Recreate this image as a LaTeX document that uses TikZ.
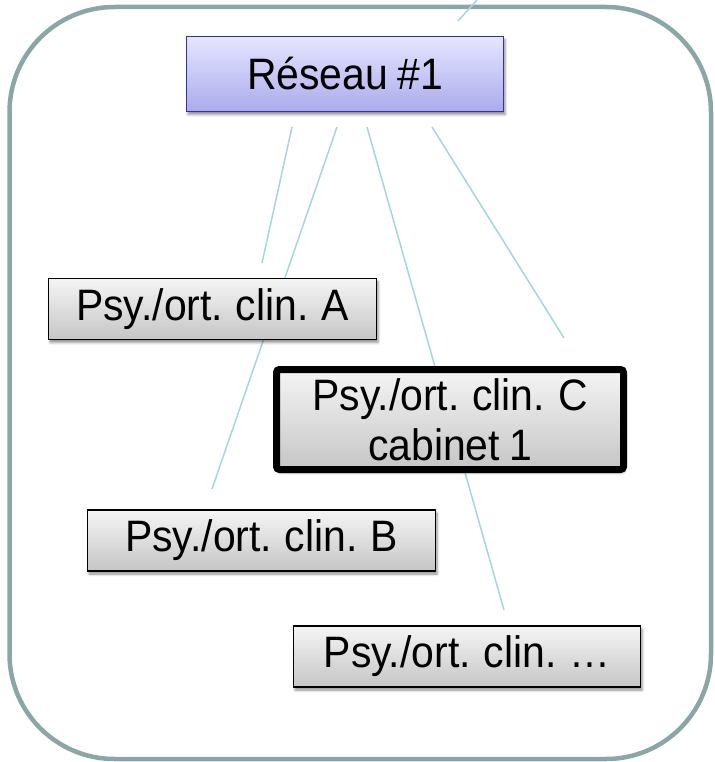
\documentclass[tikz,border=0pt]{standalone}
\usepackage{fontspec}
\setmainfont{Liberation Sans}[FakeStretch=0.93, WordSpace=0.8]
\usetikzlibrary{shadows.blur}

\definecolor{framegray}{HTML}{8AA6A7}
\definecolor{linkteal}{HTML}{A6D6DB}
\definecolor{netblue}{HTML}{33339E}

\tikzset{
	cliniq/.style={draw=black, line width=1.5pt, inner sep=0pt,
		top color=gray!8, bottom color=gray!45,
		minimum height=61pt, font=\fontsize{44}{50}\selectfont,
		blur shadow={shadow xshift=1.5pt, shadow yshift=-3pt, shadow blur radius=2.5pt, shadow opacity=45}},
	reseau/.style={cliniq, draw=netblue, top color=blue!10!white, bottom color=blue!30!white!85!gray,
		minimum width=317pt, minimum height=75pt},
	link/.style={draw=linkteal, line width=1.5pt},
	frame/.style={draw=framegray, line width=4.5pt, rounded corners=105pt}
}

\begin{document}
\begin{tikzpicture}[x=1pt,y=-1pt]
		\useasboundingbox (0,0) rectangle (714,762);
		
		% Outer frame
		\draw[frame] (9.5,7) rectangle (711,759);
		
		% Free ends of the links
		\coordinate (top-a) at (458,21);
		\coordinate (top-b) at (477,0);
		\coordinate (r1) at (292,127);
		\coordinate (r2) at (337,127);
		\coordinate (r3) at (367,127);
		\coordinate (r4) at (432,127);
		\coordinate (e1) at (262,263);
		\coordinate (e2) at (212,489);
		\coordinate (e3) at (504,610);
		\coordinate (e4) at (564,338);
		
		\draw[link] (top-a) -- (top-b);
		\draw[link] (r1) -- (e1);
		\draw[link] (r2) -- (e2);
		\draw[link] (r3) -- (e3);
		\draw[link] (r4) -- (e4);
		
		% Boxes
		\node[reseau] (res) at (345,74) {Réseau \#1};
		\node[cliniq, minimum width=328pt] (clinA) at (212.5,309) {Psy./ort. clin. A};
		\node[cliniq, line width=7pt, rounded corners=3pt, minimum width=347pt, minimum height=100pt, align=center]
			(clinC) at (450,419.5) {Psy./ort. clin. C\\cabinet 1};
		\node[cliniq, minimum width=348pt] (clinB) at (261.5,540.5) {Psy./ort. clin. B};
		\node[cliniq, minimum width=347pt] (clinN) at (467,656.5) {Psy./ort. clin. …};
	\end{tikzpicture}
\end{document}
